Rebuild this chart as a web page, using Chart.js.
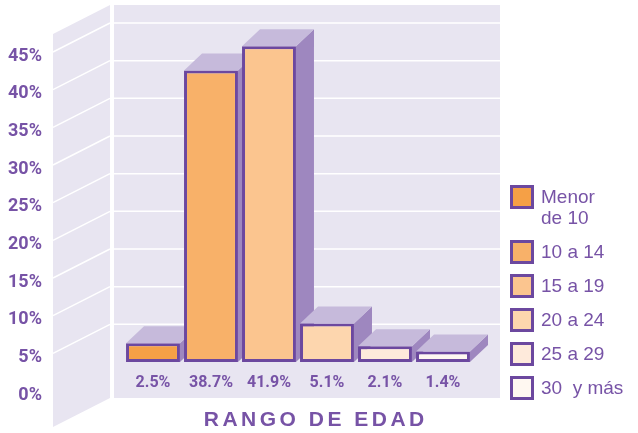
<!DOCTYPE html>
<html>
<head>
<meta charset="utf-8">
<script src="https://cdn.jsdelivr.net/npm/chart.js@4.4.1/dist/chart.umd.min.js"></script>
<style>
  html, body { margin: 0; padding: 0; background: #fff; }
  #wrap { width: 638px; height: 433px; }
</style>
</head>
<body>
<div id="wrap"><canvas id="edad"></canvas></div>
<script>
const categories = [['Menor', 'de 10'], '10 a 14', '15 a 19', '20 a 24', '25 a 29', '30  y más'];
const values = [2.5, 38.7, 41.9, 5.1, 2.1, 1.4];
const yTicks = [0, 5, 10, 15, 20, 25, 30, 35, 40, 45];
const barColors = ['#f5a046', '#f8b169', '#fbc58f', '#fdd6ae', '#feeadb', '#fff8f1'];
const axisTitle = 'RANGO DE EDAD';

const purple = '#7753a6';
const edge = '#6c489f';
const narrow = "Roboto, 'DejaVu Sans Condensed', sans-serif";
const DX = 18, DY = 17;

// lavender walls behind the bars
const walls = {
  id: 'walls',
  beforeDraw(chart) {
    const ctx = chart.ctx;
    const y = chart.scales.y;
    ctx.save();
    ctx.fillStyle = '#e8e5f1';
    ctx.fillRect(114, 5, 386, 393);
    ctx.beginPath();
    ctx.moveTo(53, 34); ctx.lineTo(110, 5); ctx.lineTo(110, 398); ctx.lineTo(53, 427);
    ctx.closePath();
    ctx.fill();
    ctx.strokeStyle = '#ffffff';
    ctx.lineWidth = 1.5;
    yTicks.forEach(v => {
      if (v === 0) return;
      const py = y.getPixelForValue(v);
      ctx.beginPath();
      ctx.moveTo(114, py); ctx.lineTo(500, py);
      ctx.moveTo(53, py + 29); ctx.lineTo(110, py);
      ctx.stroke();
    });
    ctx.restore();
  },
  // top and side faces of each bar
  beforeDatasetsDraw(chart) {
    const ctx = chart.ctx;
    ctx.save();
    chart.getDatasetMeta(0).data.forEach(bar => {
      const l = bar.x - bar.width / 2, r = bar.x + bar.width / 2, t = bar.y, b = bar.base;
      ctx.fillStyle = '#9e87bf';
      ctx.beginPath();
      ctx.moveTo(r, t); ctx.lineTo(r + DX, t - DY); ctx.lineTo(r + DX, b - DY); ctx.lineTo(r, b);
      ctx.closePath(); ctx.fill();
      ctx.fillStyle = '#c6badb';
      ctx.beginPath();
      ctx.moveTo(l, t); ctx.lineTo(l + DX, t - DY); ctx.lineTo(r + DX, t - DY); ctx.lineTo(r, t);
      ctx.closePath(); ctx.fill();
    });
    ctx.restore();
  }
};

// legend on the right + spaced axis title
const extras = {
  id: 'extras',
  afterDraw(chart) {
    const ctx = chart.ctx;
    ctx.save();
    ctx.font = '19px "Liberation Sans", Arial, sans-serif';
    ctx.textBaseline = 'middle';
    let top = 185;
    categories.forEach((c, i) => {
      const lines = Array.isArray(c) ? c : [c];
      ctx.fillStyle = barColors[i];
      ctx.fillRect(511.5, top + 1.5, 21, 21);
      ctx.strokeStyle = edge;
      ctx.lineWidth = 3;
      ctx.strokeRect(511.5, top + 1.5, 21, 21);
      ctx.fillStyle = purple;
      lines.forEach((ln, k) => ctx.fillText(ln, 541, top + 13 + k * 21));
      top += 34 + (lines.length - 1) * 21;
    });
    ctx.font = 'bold 21px "Liberation Sans", Arial, sans-serif';
    ctx.letterSpacing = '3.5px';
    ctx.textAlign = 'center';
    ctx.fillText(axisTitle, 314 + 1.75, 420);
    ctx.restore();
  }
};

new Chart(document.getElementById('edad'), {
  type: 'bar',
  data: {
    labels: categories,
    datasets: [{
      data: values,
      backgroundColor: barColors,
      borderColor: edge,
      borderWidth: 3,
      borderSkipped: false,
      barPercentage: 0.93,
      categoryPercentage: 1
    }]
  },
  options: {
    responsive: true,
    maintainAspectRatio: false,
    animation: false,
    layout: { padding: { left: 2, right: 166, top: 23, bottom: 0 } },
    plugins: { legend: { display: false }, tooltip: { enabled: false } },
    scales: {
      x: {
        grid: { display: false, drawTicks: false },
        border: { display: false },
        ticks: {
          padding: 11,
          color: purple,
          font: { family: narrow, size: 16, weight: 'bold' },
          callback: (v, i) => values[i].toFixed(1) + '%'
        },
        afterFit: s => { s.height = 71; s.paddingLeft = 0; s.paddingRight = 0; }
      },
      y: {
        min: yTicks[0],
        max: yTicks[yTicks.length - 1],
        grid: { display: false, drawTicks: false },
        border: { display: false },
        ticks: {
          stepSize: yTicks[1] - yTicks[0],
          padding: 82,
          labelOffset: 33,
          color: purple,
          font: { family: narrow, size: 18, weight: 'bold' },
          callback: v => v + '%'
        },
        afterFit: s => { s.width = 122; s.paddingTop = 0; s.paddingBottom = 0; }
      }
    }
  },
  plugins: [walls, extras]
});
</script>
</body>
</html>
